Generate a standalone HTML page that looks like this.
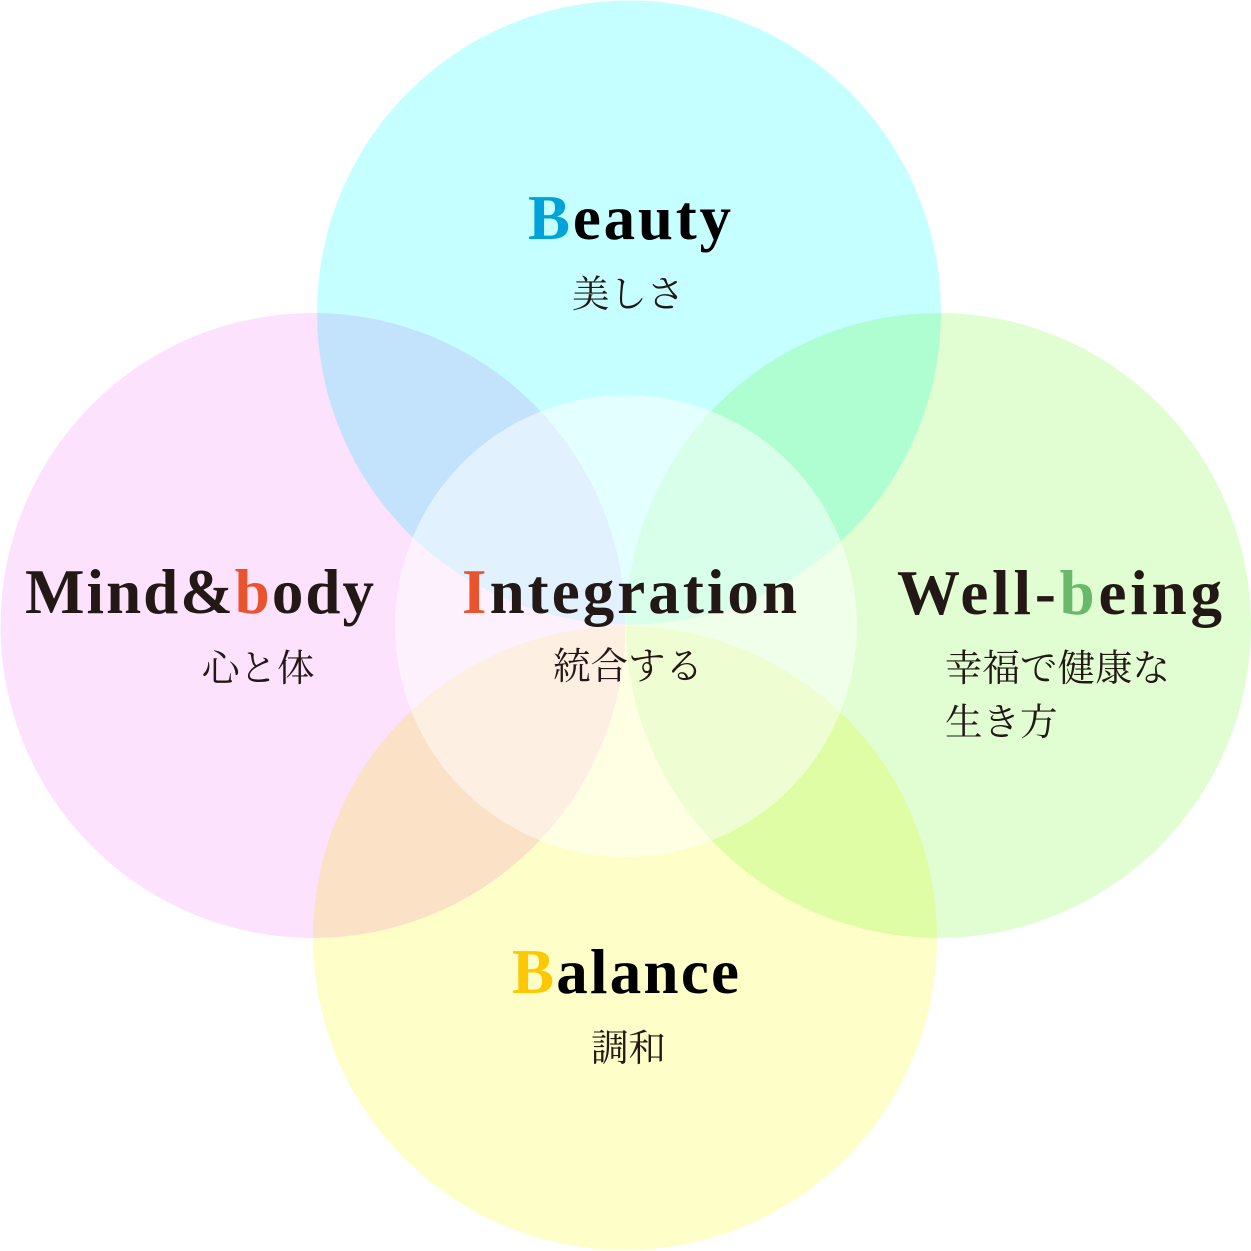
<!DOCTYPE html>
<html>
<head>
<meta charset="utf-8">
<style>
  html, body { margin: 0; padding: 0; background: #ffffff; }
  body { width: 1251px; height: 1251px; overflow: hidden; }
  svg { display: block; }
  .en { font-family: "Liberation Serif", "Noto Serif CJK JP", serif; font-weight: bold; font-size: 63px; }
  .jp { font-family: "Liberation Serif", "Noto Serif CJK JP", "Noto Serif CJK SC", serif; font-size: 37.5px; fill: #231815; }
  .c { mix-blend-mode: multiply; }
</style>
</head>
<body>
<svg width="1251" height="1251" viewBox="0 0 1251 1251" xmlns="http://www.w3.org/2000/svg">
  <rect width="1251" height="1251" fill="#ffffff"/>
  <g style="isolation:isolate">
    <circle class="c" cx="629" cy="312.5" r="312" fill="#c6ffff"/>
    <circle class="c" cx="313" cy="625.5" r="312.5" fill="#fce2fc"/>
    <circle class="c" cx="938.5" cy="625.5" r="312.5" fill="#e0fed2"/>
    <circle class="c" cx="625" cy="938" r="312" fill="#fefec8"/>
  </g>
  <circle cx="626" cy="626" r="231" fill="#ffffff" fill-opacity="0.5"/>

  <!-- Beauty -->
  <text class="en" x="528" y="239" textLength="203" lengthAdjust="spacing" fill="#000000"><tspan fill="#00a3d9">B</tspan>eauty</text>
  <text class="jp" x="572" y="307">美しさ</text>

  <!-- Mind&body -->
  <text class="en" x="25" y="613" textLength="349" lengthAdjust="spacing" fill="#231815">Mind&amp;<tspan fill="#e9542f">b</tspan>ody</text>
  <text class="jp" x="202" y="681">心と体</text>

  <!-- Integration -->
  <text class="en" x="462" y="613" textLength="335" lengthAdjust="spacing" fill="#231815"><tspan fill="#e9542f">I</tspan>ntegration</text>
  <text class="jp" x="553" y="679">統合する</text>

  <!-- Well-being -->
  <text class="en" x="897" y="614" textLength="325" lengthAdjust="spacing" fill="#231815">Well-<tspan fill="#6ab96b">b</tspan>eing</text>
  <text class="jp" x="945" y="681">幸福で健康な</text>
  <text class="jp" x="945" y="735">生き方</text>

  <!-- Balance -->
  <text class="en" x="512" y="993" textLength="227" lengthAdjust="spacing" fill="#000000"><tspan fill="#fcc800">B</tspan>alance</text>
  <text class="jp" x="591" y="1061">調和</text>
</svg>
</body>
</html>
